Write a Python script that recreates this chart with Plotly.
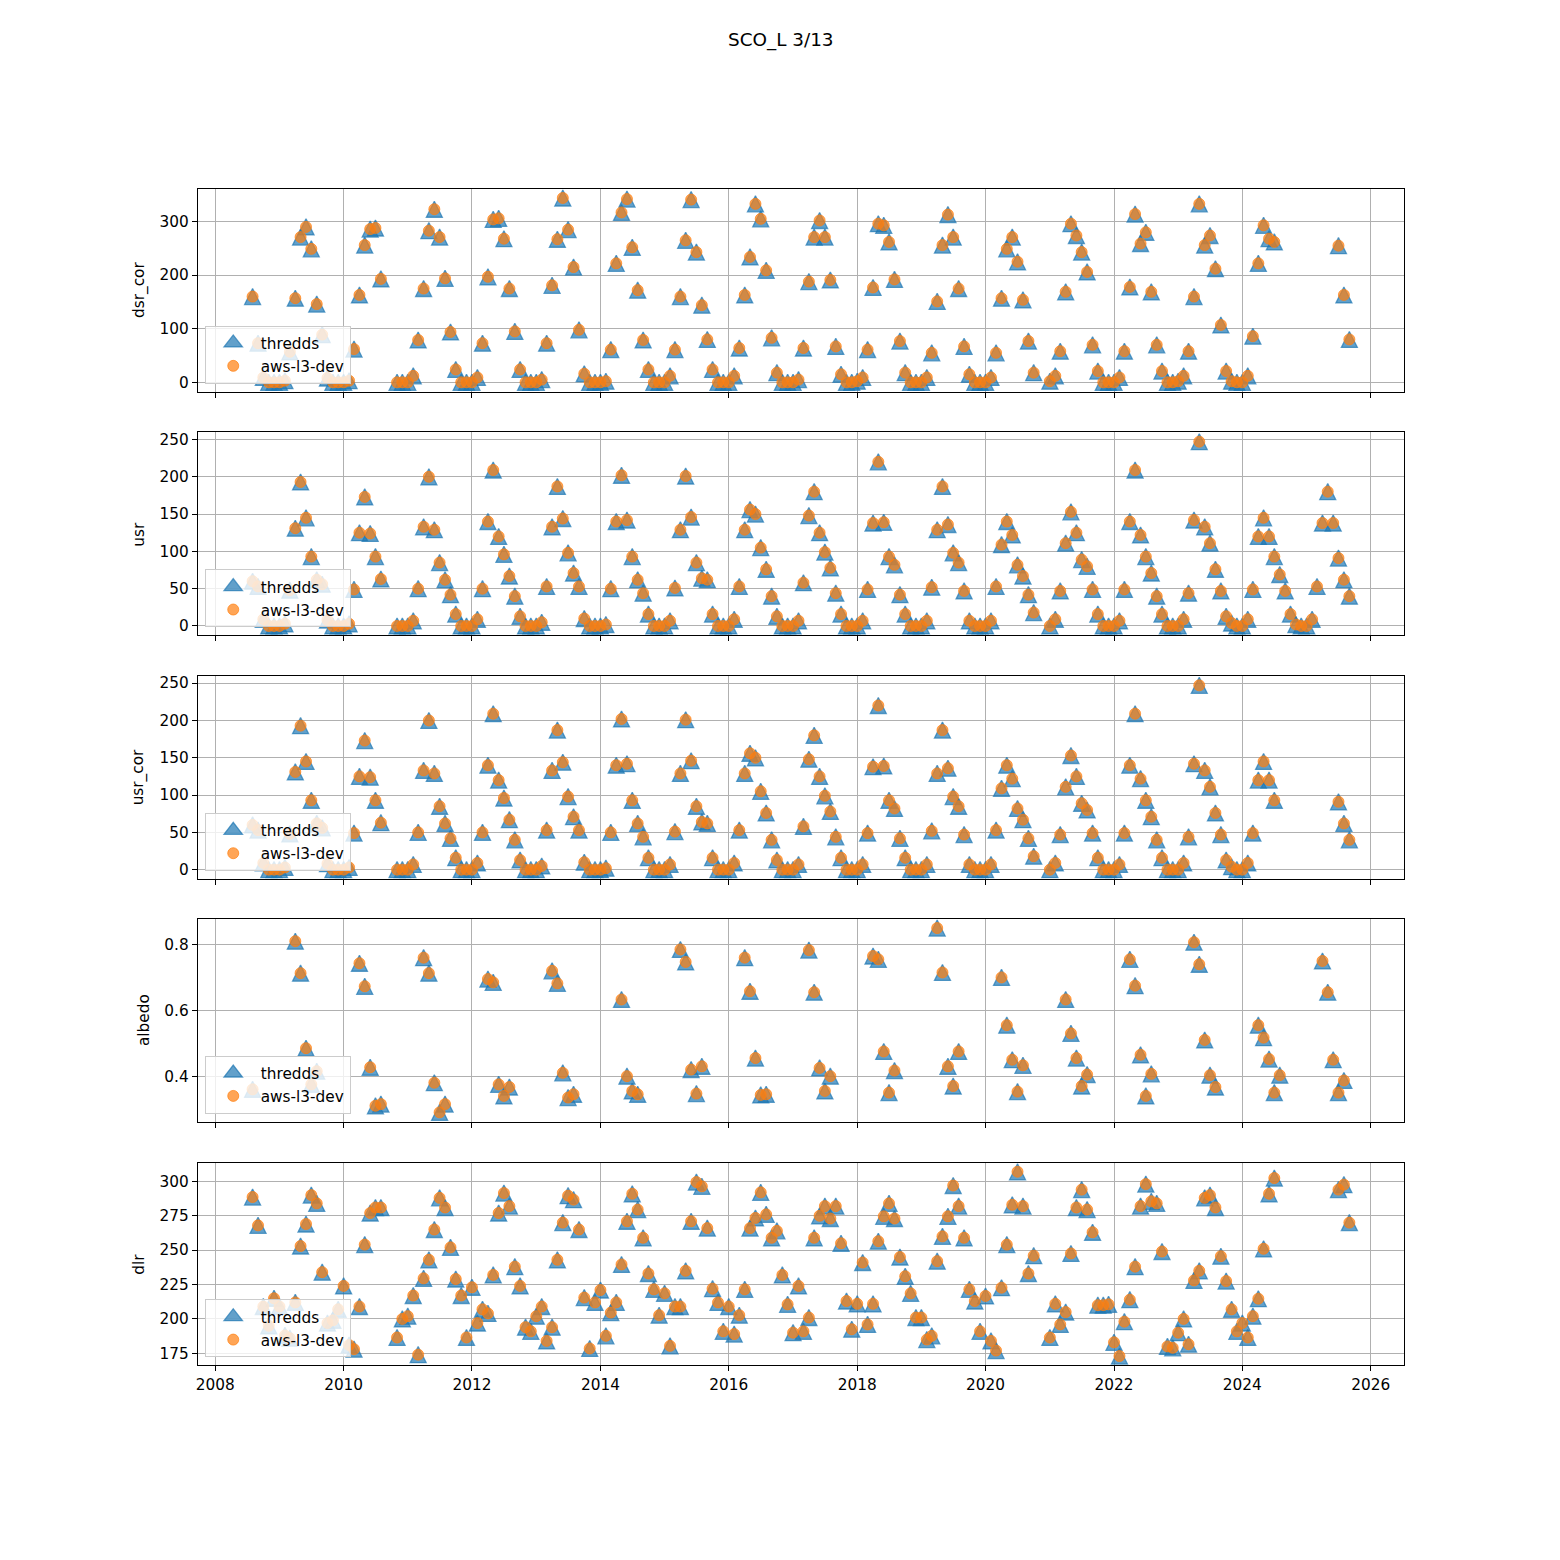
import pandas as pd
import plotly.graph_objects as go

N = None
# monthly time stamps (first of month), Aug 2008 .. Sep 2025
months = pd.date_range("2008-08-01", "2025-09-01", freq="MS")

# ---------------- dsr_cor (W m-2) ----------------
dsr_cor = [
    160, 73, 9, 0, 0,                                       # 2008 Aug-Dec
    0, 3, 57, 157, 271, 290, 249, 146, 89, 8, 0, 0,         # 2009
    0, 3, 62, 163, 256, 286, 288, 193, N, N, 0, 0,          # 2010
    0, 12, 79, 175, 283, 323, 271, 194, 94, 24, 0, 0,       # 2011
    0, 9, 73, 197, 304, 306, 268, 175, 95, 24, 0, 0,        # 2012
    0, 5, 73, 181, 267, 344, 285, 215, 98, 16, 0, 0,        # 2013
    0, 2, 61, 222, 317, 342, 252, 172, 79, 24, 0, 0,        # 2014
    0, 12, 61, 160, 265, 341, 243, 144, 80, 24, 0, 0,       # 2015
    0, 12, 64, 163, 234, 333, 305, 209, 83, 18, 0, 0,       # 2016
    0, 5, 64, 188, 271, 302, 271, 191, 67, 15, 0, 0,        # 2017
    2, 9, 61, 177, 296, 293, 262, 192, 77, 18, 0, 0,        # 2018
    0, 9, 55, 151, 256, 313, 271, 175, 67, 15, 0, 0,        # 2019
    0, 9, 55, 157, 249, 271, 225, 154, 77, 18, N, N,        # 2020
    2, 12, 58, 169, 296, 274, 243, 206, 70, 21, 0, 0,       # 2021
    0, 9, 58, 178, 314, 259, 280, 169, 70, 21, 0, 0,        # 2022
    2, 12, 58, 160, 333, 256, 274, 212, 107, 21, 2, 0,      # 2023
    0, 12, 86, 222, 293, 268, 262, N, N, N, N, N,           # 2024
    N, N, N, N, N, N, 255, 163, 80,                         # 2025 Jan-Sep
]

# ---------------- usr ----------------
usr = [
    60, 53, 9, 0, 0,
    0, 3, 48, 131, 193, 145, 93, 62, 56, 8, 0, 0,
    0, 3, 49, 125, 173, 124, 93, 63, N, N, 0, 0,
    0, 7, 50, 133, 200, 129, 85, 62, 42, 16, 0, 0,
    0, 9, 50, 140, 209, 120, 96, 67, 40, 13, 0, 0,
    0, 5, 53, 133, 187, 144, 98, 71, 53, 10, 0, 0,
    0, 2, 50, 140, 202, 142, 93, 62, 44, 16, 0, 0,
    0, 7, 51, 129, 201, 146, 85, 64, 62, 16, 0, 0,
    0, 9, 53, 129, 156, 150, 105, 76, 40, 13, 0, 0,
    0, 7, 58, 148, 180, 125, 99, 78, 44, 16, 0, 0,
    0, 7, 49, 138, 220, 139, 93, 82, 42, 16, 0, 0,
    0, 7, 52, 129, 187, 136, 98, 85, 47, 7, 0, 0,
    0, 7, 53, 109, 140, 122, 82, 67, 42, 18, N, N,
    0, 9, 47, 111, 153, 125, 89, 80, 49, 16, 0, 0,
    0, 7, 49, 140, 209, 122, 93, 71, 40, 16, 0, 0,
    0, 9, 44, 142, 247, 133, 111, 76, 47, 13, 4, 0,
    0, 9, 49, 120, 145, 120, 93, 69, 47, 16, 2, 0,
    0, 9, 53, 138, 180, 138, 91, 62, 40,
]

# ---------------- usr_cor ----------------
usr_cor = [
    60, 53, 9, 0, 0,
    0, 3, 48, 131, 193, 145, 93, 62, 56, 8, 0, 0,
    0, 3, 49, 125, 173, 124, 93, 63, N, N, 0, 0,
    0, 7, 50, 133, 200, 129, 85, 62, 42, 16, 0, 0,
    0, 9, 50, 140, 209, 120, 96, 67, 40, 13, 0, 0,
    0, 5, 53, 133, 187, 144, 98, 71, 53, 10, 0, 0,
    0, 2, 50, 140, 202, 142, 93, 62, 44, 16, 0, 0,
    0, 7, 51, 129, 201, 146, 85, 64, 62, 16, 0, 0,
    0, 9, 53, 129, 156, 150, 105, 76, 40, 13, 0, 0,
    0, 7, 58, 148, 180, 125, 99, 78, 44, 16, 0, 0,
    0, 7, 49, 138, 220, 139, 93, 82, 42, 16, 0, 0,
    0, 7, 52, 129, 187, 136, 98, 85, 47, 7, 0, 0,
    0, 7, 53, 109, 140, 122, 82, 67, 42, 18, N, N,
    0, 9, 47, 111, 153, 125, 89, 80, 49, 16, 0, 0,
    0, 7, 49, 140, 209, 122, 93, 71, 40, 16, 0, 0,
    0, 9, 44, 142, 247, 133, 111, 76, 47, 13, 4, 0,
    0, 9, 49, 120, 145, 120, 93, N, N, N, N, N,
    N, N, N, N, N, N, 91, 62, 40,
]

# ---------------- albedo ----------------
albedo = [
    0.36, N, N, N, N,
    N, N, N, 0.81, 0.713, 0.485, 0.375, 0.415, N, N, N, N,
    N, N, N, 0.743, 0.673, 0.427, 0.31, 0.315, N, N, N, N,
    N, N, N, 0.76, 0.713, 0.38, 0.29, 0.315, N, N, N, N,
    N, N, N, 0.695, 0.685, 0.375, 0.34, 0.367, N, N, N, N,
    N, N, N, 0.72, 0.682, 0.41, 0.335, 0.345, N, N, N, N,
    N, N, N, N, 0.633, 0.40, 0.355, 0.345, N, N, N, N,
    N, N, N, 0.785, 0.747, 0.42, 0.347, 0.43, N, N, N, N,
    N, N, N, 0.76, 0.658, 0.455, 0.343, 0.345, N, N, N, N,
    N, N, N, 0.783, 0.655, 0.425, 0.355, 0.40, N, N, N, N,
    N, N, N, 0.765, 0.755, 0.475, 0.35, 0.417, N, N, N, N,
    N, N, N, 0.85, 0.715, 0.43, 0.37, 0.475, N, N, N, N,
    N, N, N, 0.70, 0.555, 0.45, 0.353, 0.433, N, N, N, N,
    N, N, N, 0.633, 0.53, 0.455, 0.37, 0.405, N, N, N, N,
    N, N, N, 0.755, 0.675, 0.465, 0.34, 0.407, N, N, N, N,
    N, N, N, 0.807, 0.74, 0.51, 0.403, 0.367, N, N, N, N,
    N, N, N, 0.555, 0.517, 0.452, 0.35, 0.403, N, N, N, N,
    N, N, N, 0.75, 0.655, 0.45, 0.35, 0.387, N,
]

# ---------------- dlr ----------------
dlr = [
    288.6, 268, 209, 195, 215,
    209, 188, 186, 212, 253, 269, 290, 284, 234, 197, 199, 207,
    224, 181, 178, 209, 254, 277, 281, 281, N, N, 186.5, 200,
    202, 217, 174, 229.5, 243, 265, 288, 281, 252, 229, 217, 186.5,
    223, 197, 207, 204, 232, 277, 291.5, 282, 238, 224, 194, 191,
    202, 209, 184, 194, 243, 270, 289.6, 286.7, 265, 215.5, 178.5, 212,
    221, 187.7, 204.6, 212, 239.6, 271, 291, 279.5, 259, 233, 221.5, 202.7,
    218.6, 180.4, 209, 209, 235, 271, 299.5, 296.4, 266, 222, 212, 191,
    209, 189, 202.7, 221.5, 266, 273.4, 292, 276, 259, 264, 232, 210.6,
    190, 224, 191, 201, 259, 275, 282, 273, 282, 255, 213, 192.5,
    211, 241, 196, 211, 256.5, 274.6, 284, 273, 245, 231, 218.6, 201,
    201, 185, 187.7, 242, 260, 274.6, 297, 282, 259, 221.5, 213, 191,
    216.7, 184, 177, 222.7, 254, 283, 307, 282, 233, 246, N, N,
    186.5, 211, 196, 205, 247.6, 281, 294, 279.5, 263, 210, 210, 210.6,
    183, 173, 198, 214, 238, 282, 298, 285.5, 284, 249, 180, 179,
    190, 200, 181.6, 228, 235, 288, 290, 281, 245.6, 227.5, 207, 191,
    197, 186.5, 202, 214.7, 251, 291, 302.4, N, N, N, N, N,
    N, N, N, N, N, N, 294, 297.6, 270,
]

variables = ["dsr_cor", "usr", "usr_cor", "albedo", "dlr"]
thredds = [dsr_cor, usr, usr_cor, albedo, dlr]
aws_l3_dev = [dsr_cor, usr, usr_cor, albedo, dlr]

y_ticks = [
    [0, 100, 200, 300],
    [0, 50, 100, 150, 200, 250],
    [0, 50, 100, 150, 200, 250],
    [0.4, 0.6, 0.8],
    [175, 200, 225, 250, 275, 300],
]
y_ticktext = [
    ["0", "100", "200", "300"],
    ["0", "50", "100", "150", "200", "250"],
    ["0", "50", "100", "150", "200", "250"],
    ["0.4", "0.6", "0.8"],
    ["175", "200", "225", "250", "275", "300"],
]
x_tick_years = list(range(2008, 2027, 2))

title_text = "SCO_L 3/13"

# ---------------- layout geometry ----------------
W = H = 1560
FONT = "DejaVu Sans"
FS = 15.3
panels_px = [(187, 390), (431, 634), (675, 878), (918, 1121), (1162, 1365)]
x_left, x_right = 196, 1404
ylabel_x = [137, 137, 137, 142, 137]

BLUE_F = "rgba(31,119,180,0.7)"
ORANGE_F = "rgba(255,127,14,0.7)"
TRI = 16  # triangle size (px): width == height, centred on the point

fig = go.Figure()

t0 = months[0]
t1 = months[-1]
span = t1 - t0
x_range = [t0 - span * 0.05, t1 + span * 0.05]

layout = dict(
    width=W, height=H, autosize=False,
    margin=dict(l=0, r=0, t=0, b=0),
    paper_bgcolor="white", plot_bgcolor="white",
    font=dict(family=FONT, size=FS, color="black"),
    showlegend=True,
)

annotations = [dict(
    text=title_text, x=0.5, y=1 - 38 / H, xref="paper", yref="paper",
    xanchor="center", yanchor="middle", showarrow=False,
    font=dict(family=FONT, size=18.4, color="black"),
)]

for i, name in enumerate(variables):
    k = i + 1
    xa = "x" if k == 1 else f"x{k}"
    ya = "y" if k == 1 else f"y{k}"
    lg = "legend" if k == 1 else f"legend{k}"
    top, bot = panels_px[i]

    # legend entry for thredds (plain triangle symbol)
    fig.add_trace(go.Scatter(
        x=[None], y=[None], mode="markers", name="thredds",
        xaxis=xa, yaxis=ya, legend=lg, showlegend=True,
        marker=dict(symbol="triangle-up", size=16, color=BLUE_F,
                    line=dict(color=BLUE_F, width=1.3)),
    ))
    # upward triangle (arrow-down rotated 180 and pulled back by half its size
    # so that it is centred on the data point like matplotlib's '^')
    fig.add_trace(go.Scatter(
        x=months, y=thredds[i], mode="markers", name="thredds",
        xaxis=xa, yaxis=ya, legend=lg, showlegend=False,
        marker=dict(symbol="arrow-down", angle=180, standoff=TRI / 2,
                    size=TRI, color=BLUE_F,
                    line=dict(color=BLUE_F, width=1.3)),
    ))
    fig.add_trace(go.Scatter(
        x=months, y=aws_l3_dev[i], mode="markers", name="aws-l3-dev",
        xaxis=xa, yaxis=ya, legend=lg, showlegend=True,
        marker=dict(symbol="circle", size=11, color=ORANGE_F,
                    line=dict(color=ORANGE_F, width=1)),
    ))

    vals = [v for v in thredds[i] + aws_l3_dev[i] if v is not None]
    lo, hi = min(vals), max(vals)
    pad = (hi - lo) * 0.05

    axis_common = dict(
        showline=True, linecolor="black", linewidth=1.1, mirror=True,
        ticks="outside", ticklen=5, tickwidth=1.1, tickcolor="black",
        showgrid=True, gridcolor="#b0b0b0", gridwidth=1.1,
        zeroline=False, tickfont=dict(family=FONT, size=FS, color="black"),
    )
    layout["xaxis" if k == 1 else f"xaxis{k}"] = dict(
        axis_common, type="date", domain=[x_left / W, x_right / W],
        anchor=ya, range=x_range,
        tickvals=[f"{y}-01-01" for y in x_tick_years],
        ticktext=[str(y) for y in x_tick_years],
        showticklabels=(k == 5),
        **({} if k == 1 else {"matches": "x"}),
    )
    layout["yaxis" if k == 1 else f"yaxis{k}"] = dict(
        axis_common, domain=[1 - bot / H, 1 - top / H], anchor=xa,
        range=[lo - pad, hi + pad],
        tickvals=y_ticks[i], ticktext=y_ticktext[i],
    )
    layout[lg] = dict(
        x=203 / W, y=1 - (bot - 8) / H, xref="paper", yref="paper",
        xanchor="left", yanchor="bottom",
        bgcolor="rgba(255,255,255,0.8)", bordercolor="#cccccc", borderwidth=1,
        font=dict(family=FONT, size=FS, color="black"),
        tracegroupgap=0, itemwidth=45,
    )
    annotations.append(dict(
        text=name, x=ylabel_x[i] / W, y=1 - (top + bot) / 2 / H,
        xref="paper", yref="paper", xanchor="center", yanchor="middle",
        textangle=-90, showarrow=False,
        font=dict(family=FONT, size=FS, color="black"),
    ))

layout["annotations"] = annotations
fig.update_layout(**layout)
fig.write_html("out.html")
